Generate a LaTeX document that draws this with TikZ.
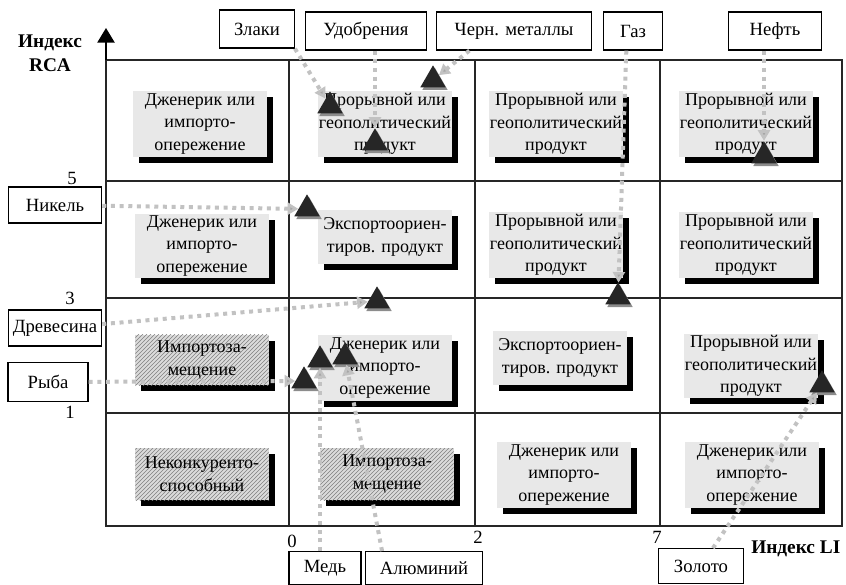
\documentclass[tikz,border=0pt]{standalone}
\usepackage{fontspec}
\setmainfont{Liberation Serif}
\usetikzlibrary{arrows.meta,shapes.geometric,shadows,patterns}

\tikzset{
  cellbox/.style={fill=black!9, align=center, inner sep=1pt, minimum width=100pt,
    font=\fontsize{13.5}{17}\selectfont,
    drop shadow={shadow xshift=4.5pt, shadow yshift=-4.5pt, fill=black, opacity=1}},
  hatchbox/.style={cellbox, fill=black!14,
    postaction={pattern=north east lines, pattern color=black!50}},
  itembox/.style={draw, line width=0.9pt, fill=white, minimum height=28.5pt, inner sep=2pt,
    font=\fontsize{14}{16}\selectfont},
  marker/.style={regular polygon, regular polygon sides=3, fill=black!85, minimum size=22pt,
    inner sep=0pt, drop shadow={shadow xshift=1.5pt, shadow yshift=-2pt, fill=black!45, opacity=1}},
  link/.style={line width=3pt, black!24, dash pattern=on 3pt off 3.5pt,
    -{Triangle[length=8pt,width=9pt,fill=black!35]}},
  gridline/.style={line width=1.1pt, black!85},
  ticklabel/.style={font=\fontsize{14}{16}\selectfont, inner sep=1pt},
  axislabel/.style={font=\fontsize{14.5}{18}\selectfont\bfseries, align=center}
}

\begin{document}
\begin{tikzpicture}[x=0.75pt,y=-0.75pt]
\useasboundingbox (0,0) rectangle (846,585);

% grid and axis
\draw[gridline] (106,60) rectangle (842,526);
\draw[gridline] (289,60) -- (289,526);
\draw[gridline] (475,60) -- (475,526);
\draw[gridline] (660,60) -- (660,526);
\draw[gridline] (106,181) -- (842,181);
\draw[gridline] (106,298) -- (842,298);
\draw[gridline] (106,413) -- (842,413);
\coordinate (ytip) at (106,28);
\draw[line width=1.1pt, -{Triangle[length=11pt,width=13pt]}] (106,60) -- (ytip);

\node[axislabel] (rca) at (50,53) {Индекс\\RCA};
\node[axislabel, anchor=east] (li) at (845,549) {Индекс LI};

\node[ticklabel] (y5) at (72,178) {5};
\node[ticklabel] (y3) at (70,298) {3};
\node[ticklabel] (y1) at (70,412) {1};
\node[ticklabel] (x0) at (292,541) {0};
\node[ticklabel] (x2) at (478,537) {2};
\node[ticklabel] (x7) at (657,537) {7};

% cells, top row first
\node[cellbox, minimum height=49pt] (c11) at (200,124) {Дженерик или\\импорто-\\опережение};
\node[cellbox, minimum height=49pt] (c12) at (385,124) {Прорывной или\\геополитический\\продукт};
\node[cellbox, minimum height=49pt] (c13) at (556,124) {Прорывной или\\геополитический\\продукт};
\node[cellbox, minimum height=49pt] (c14) at (746,124) {Прорывной или\\геополитический\\продукт};

\node[cellbox, minimum height=48pt] (c21) at (202,246) {Дженерик или\\импорто-\\опережение};
\node[cellbox, minimum height=40pt] (c22) at (385,237) {Экспортоориен-\\тиров. продукт};
\node[cellbox, minimum height=49pt] (c23) at (556,245) {Прорывной или\\геополитический\\продукт};
\node[cellbox, minimum height=49pt] (c24) at (746,245) {Прорывной или\\геополитический\\продукт};

\node[hatchbox, minimum height=38pt] (c31) at (202,360) {Импортоза-\\мещение};
\node[cellbox, minimum height=50pt] (c32) at (385,368) {Дженерик или\\импорто-\\опережение};
\node[cellbox, minimum height=40pt] (c33) at (560,358) {Экспортоориен-\\тиров. продукт};
\node[cellbox, minimum height=47pt] (c34) at (751,366) {Прорывной или\\геополитический\\продукт};

\node[hatchbox, minimum height=39pt] (c41) at (202,474) {Неконкуренто-\\способный};
\node[hatchbox, minimum height=39pt] (c42) at (387,474) {Импортоза-\\мещение};
\node[cellbox, minimum height=49pt] (c43) at (564,475) {Дженерик или\\импорто-\\опережение};
\node[cellbox, minimum height=49pt] (c44) at (752,475) {Дженерик или\\импорто-\\опережение};

% goods
\node[itembox, minimum width=56pt] (zlaki) at (257,29) {Злаки};
\node[itembox, minimum width=91pt] (udobr) at (366,31) {Удобрения};
\node[itembox, minimum width=116pt] (metal) at (514,31) {Черн. металлы};
\node[itembox, minimum width=44pt] (gas) at (633,31) {Газ};
\node[itembox, minimum width=70pt] (neft) at (775,31) {Нефть};

\node[itembox, minimum width=70pt, minimum height=27pt] (nikel) at (55,205) {Никель};
\node[itembox, minimum width=70pt, minimum height=27pt] (drev) at (55,328) {Древесина};
\node[itembox, minimum width=60pt, minimum height=29pt] (ryba) at (48,382) {Рыба};

\node[itembox, minimum width=54pt, minimum height=24.5pt] (med) at (325,568) {Медь};
\node[itembox, minimum width=88pt, minimum height=24.5pt] (alum) at (424,568) {Алюминий};
\node[itembox, minimum width=64pt, minimum height=26pt] (zoloto) at (701,566) {Золото};

% markers
\node[marker] (t1) at (330,106) {};
\node[marker] (t2) at (375,143) {};
\node[marker] (t3) at (433,80) {};
\node[marker] (t4) at (618,297) {};
\node[marker] (t5) at (764,156) {};
\node[marker] (t6) at (307,209) {};
\node[marker] (t7) at (377,301) {};
\node[marker] (t8) at (304,381) {};
\node[marker] (t9) at (320,360) {};
\node[marker] (t10) at (345,357) {};
\node[marker] (t11) at (822,385) {};

% links
\draw[link] (zlaki.south east) -- (t1);
\draw[link] (t2 |- udobr.south) -- (t2);
\draw[link] ([xshift=25pt]metal.south west) -- (t3);
\draw[link] ([xshift=-5pt]gas.south) -- (t4);
\draw[link] (t5 |- neft.south) -- (t5);
\draw[link] (nikel) -- (t6);
\draw[link] (drev) -- (t7);
\draw[link] (ryba) -- (t8);
\draw[link] (t9 |- med.north) -- (t9);
\draw[link] ([xshift=13pt]alum.north west) -- (t10);
\draw[link] (zoloto) -- (t11);
\end{tikzpicture}
\end{document}
